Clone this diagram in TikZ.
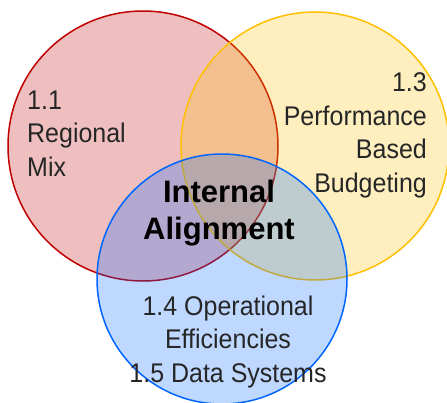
\documentclass[tikz,border=0pt]{standalone}
\usepackage{fontspec}
\setmainfont{Liberation Sans}
\newfontfamily\narrowfont[FakeStretch=0.925]{Liberation Sans}
\definecolor{cred}{HTML}{C00000}
\definecolor{cyel}{HTML}{FFC000}
\definecolor{cblu}{HTML}{0066FF}
\definecolor{txt}{HTML}{262626}
\begin{document}
\begin{tikzpicture}[x=1pt,y=-1pt,
  venn/.style={line width=1.5pt, fill opacity=0.25, draw opacity=1},
  lbl/.style={inner sep=0pt, text=txt, font=\narrowfont\fontsize{27}{33.5}\selectfont},
  core/.style={inner sep=0pt, text=black, align=center, font=\fontsize{31}{37}\selectfont\bfseries}]
\useasboundingbox (0,0) rectangle (447,402);
\fill[white] (0,0) rectangle (447,402);
\coordinate (cr) at (143,146);
\coordinate (cy) at (315,146);
\coordinate (cb) at (222,279);
\path[venn, draw=cred, fill=cred] (cr) circle[radius=135pt];
\path[venn, draw=cyel, fill=cyel] (cy) circle[radius=134pt];
\path[venn, draw=cblu, fill=cblu] (cb) circle[radius=125pt];
\node[lbl, anchor=base west, align=left] (reg) at (27,176) {1.1\\Regional\\Mix};
\node[lbl, anchor=base east, align=right] (perf) at (427,192) {1.3\\Performance\\Based\\Budgeting};
\node[lbl, anchor=base, align=center] (ops) at (228,382) {1.4 Operational\\Efficiencies\\1.5 Data Systems};
\node[core, anchor=base] (ia) at (219,239) {Internal\\Alignment};
\end{tikzpicture}
\end{document}
